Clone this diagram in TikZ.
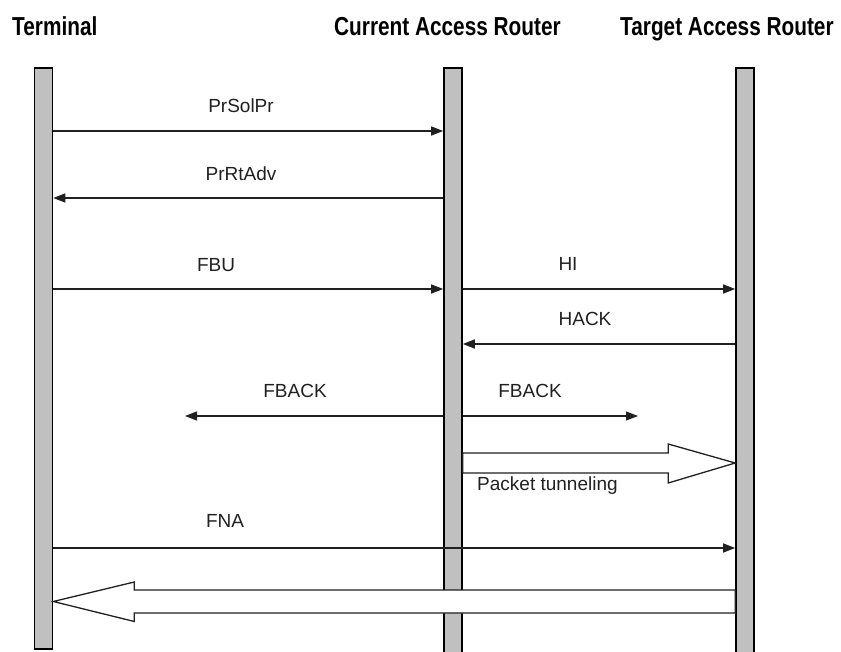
\documentclass[tikz,border=0pt]{standalone}
\usepackage{fontspec}
\setmainfont{Liberation Sans}
\newfontfamily\headfont[FakeStretch=0.8]{Liberation Sans}
\usetikzlibrary{arrows.meta,positioning,calc}
\definecolor{barGray}{HTML}{C0C0C0}
\definecolor{lineGray}{HTML}{202020}

\tikzset{
	lifeline/.style={draw=black, line width=1.6pt, fill=barGray, minimum width=18pt, inner sep=0pt, anchor=north},
	msg/.style={draw=lineGray, line width=1.3pt, -{Triangle[length=12pt,width=9pt]}},
	msglabel/.style={font=\fontsize{19}{21}\selectfont, text=lineGray, inner sep=0pt},
	head/.style={font=\headfont\bfseries\fontsize{26}{28}\selectfont, anchor=base west, inner sep=0pt},
	bigarrow/.style={draw=lineGray, line width=1.3pt, fill=white, line join=miter}
}

\begin{document}
\begin{tikzpicture}[x=1pt, y=1pt]
	\useasboundingbox (0,0) rectangle (841,-652);
	
	% headers
	\node[head] (termhead) at (12,-36) {Terminal};
	\node[head] (carhead) at (334,-36) {Current Access Router};
	\node[head] (tarhead) at (620,-36) {Target Access Router};
	
	% life lines
	\node[lifeline, minimum height=581pt] (term) at (43.5,-67) {};
	\node[lifeline, minimum height=600pt] (car) at (453,-67) {};
	\node[lifeline, minimum height=600pt] (tar) at (745,-67) {};
	
	% messages
	\node[msglabel] (solpr) at (241,-106) {PrSolPr};
	\draw[msg] (term.east |- 0,-131) -- (car.west |- 0,-131);
	
	\node[msglabel] (rtadv) at (241,-174) {PrRtAdv};
	\draw[msg] (car.west |- 0,-198) -- (term.east |- 0,-198);
	
	\node[msglabel] (fbu) at (216,-265) {FBU};
	\draw[msg] (term.east |- 0,-289) -- (car.west |- 0,-289);
	
	\node[msglabel] (hi) at (568,-264) {HI};
	\draw[msg] (car.east |- 0,-289) -- (tar.west |- 0,-289);
	
	\node[msglabel] (hack) at (585,-319) {HACK};
	\draw[msg] (tar.west |- 0,-344) -- (car.east |- 0,-344);
	
	\coordinate (fbackl) at (185,-416);
	\coordinate (fbackr) at (638,-416);
	\node[msglabel] (fbackla) at (295,-391) {FBACK};
	\node[msglabel] (fbackra) at (530,-391) {FBACK};
	\draw[msg] (car.west |- fbackl) -- (fbackl);
	\draw[msg] (car.east |- fbackr) -- (fbackr);
	
	% packet tunneling
	\coordinate (tunS) at (car.east |- 0,-463);
	\coordinate (tunE) at (tar.west |- 0,-463);
	\draw[bigarrow] ($(tunS)+(0,10)$) -- ($(tunE)+(-67,10)$) -- ++(0,9) -- (tunE)
		-- ++(-67,-20) -- ++(0,10) -- ($(tunS)+(0,-10)$) -- cycle;
	\node[msglabel, anchor=west] (tunlabel) at (477,-486) {Packet tunneling};
	
	\node[msglabel] (fna) at (225,-521) {FNA};
	\draw[msg] (term.east |- 0,-548) -- (tar.west |- 0,-548);
	
	% return traffic
	\coordinate (retS) at (tar.west |- 0,-601.5);
	\coordinate (retE) at (term.east |- 0,-601.5);
	\draw[bigarrow] ($(retS)+(0,11.5)$) -- ($(retE)+(81,11.5)$) -- ++(0,8) -- (retE)
		-- ++(81,-20) -- ++(0,8.5) -- ($(retS)+(0,-11.5)$) -- cycle;
\end{tikzpicture}
\end{document}
